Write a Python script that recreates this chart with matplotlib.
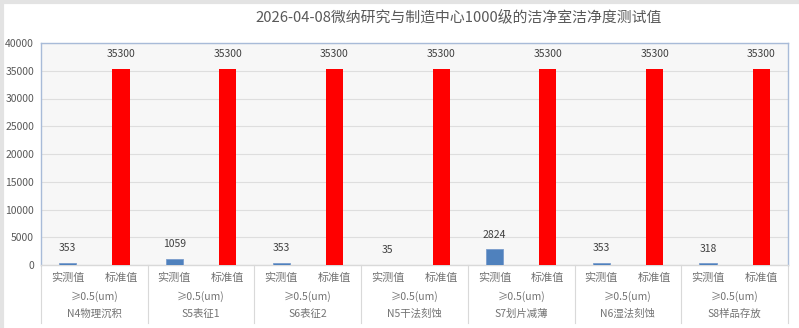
import matplotlib
matplotlib.use("Agg")
import matplotlib.pyplot as plt
from matplotlib.transforms import blended_transform_factory
from matplotlib.lines import Line2D

plt.rcParams['font.family'] = ['Noto Sans CJK SC', 'DejaVu Sans']

# cleanroom test data
rooms = ["N4物理沉积", "S5表征1", "S6表征2", "N5干法刻蚀", "S7划片减薄", "N6湿法刻蚀", "S8样品存放"]
particle_size = "≥0.5(um)"
kinds = ["实测值", "标准值"]
measured = [353, 1059, 353, 35, 2824, 353, 318]
standard = [35300, 35300, 35300, 35300, 35300, 35300, 35300]
title = "2026-04-08微纳研究与制造中心1000级的洁净室洁净度测试值"

text_color = "#595959"
cat_color = "#737373"
fig = plt.figure(figsize=(7.99, 3.28), dpi=100)
fig.patch.set_facecolor("white")
# grey strip along top and left edges
fig.lines.append(Line2D([0.002, 0.002], [0, 1], transform=fig.transFigure,
                        color="#e3e3e3", linewidth=3))
fig.lines.append(Line2D([0, 1], [0.995, 0.995], transform=fig.transFigure,
                        color="#e3e3e3", linewidth=3))

ax = fig.add_axes([41 / 799, 63 / 328, 747 / 799, 222 / 328])
ax.set_facecolor("#f7f7f7")

n = len(rooms)
xs_meas = [2 * i for i in range(n)]
xs_std = [2 * i + 1 for i in range(n)]
bw = 0.32
ax.bar(xs_meas, measured, width=bw, color="#4f81bd", edgecolor="#7a9ccc",
       linewidth=0.6, zorder=3)
ax.bar(xs_std, standard, width=bw, color="#ff0000", zorder=3)

for x, v in zip(xs_meas, measured):
    ax.annotate(str(v), (x, v), xytext=(0, 7), textcoords="offset points",
                ha="center", va="bottom", fontsize=7.5, color="#404040")
for x, v in zip(xs_std, standard):
    ax.annotate(str(v), (x, v), xytext=(0, 7), textcoords="offset points",
                ha="center", va="bottom", fontsize=7.5, color="#404040")

ax.set_xlim(-0.5, 2 * n - 0.5)
ax.set_ylim(0, 40000)
ax.set_yticks(range(0, 40001, 5000))
ax.tick_params(axis="y", length=0, labelsize=7.5, labelcolor=text_color, pad=5)
ax.set_xticks([])
ax.grid(axis="y", color="#dedede", linewidth=0.8, zorder=0)
for s in ax.spines.values():
    s.set_color("#a8bbd8")
    s.set_linewidth(1)
ax.spines["bottom"].set_color("#d9d9d9")

# multi-level category labels
trans = blended_transform_factory(ax.transData, ax.transAxes)
for i in range(n):
    ax.text(xs_meas[i], -0.058, kinds[0], transform=trans, ha="center", va="center",
            fontsize=8, color=cat_color)
    ax.text(xs_std[i], -0.058, kinds[1], transform=trans, ha="center", va="center",
            fontsize=8, color=cat_color)
    ax.text(2 * i + 0.5, -0.14, particle_size, transform=trans, ha="center", va="center",
            fontsize=7.5, color=cat_color)
    ax.text(2 * i + 0.5, -0.22, rooms[i], transform=trans, ha="center", va="center",
            fontsize=7.5, color=cat_color)
for k in range(n + 1):
    ax.plot([2 * k - 0.5] * 2, [0, -0.26], transform=trans, color="#d9d9d9",
            linewidth=0.8, clip_on=False)

fig.text(459 / 799, 1 - 18 / 328, title, ha="center", va="center",
         fontsize=10.7, color=text_color)

fig.savefig("out.png", dpi=100)
